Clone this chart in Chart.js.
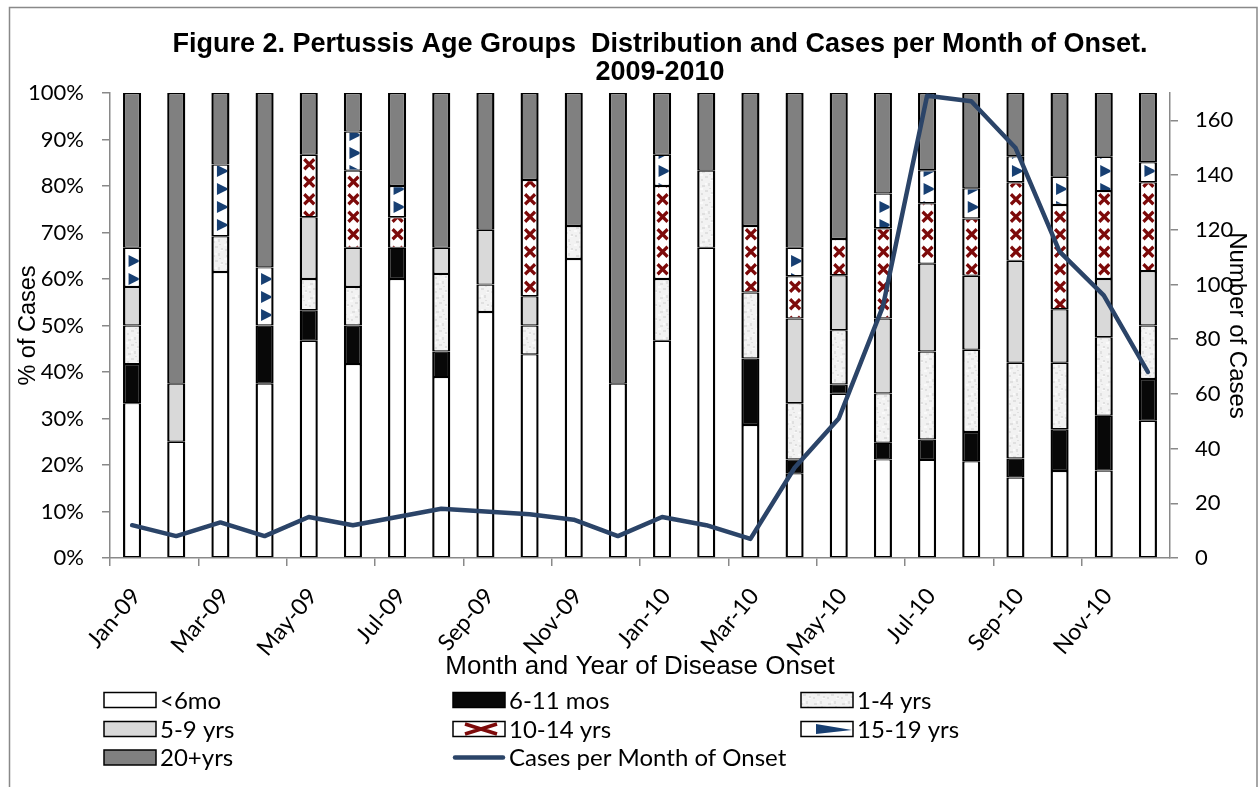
<!DOCTYPE html>
<html>
<head>
<meta charset="utf-8">
<script src="https://cdn.jsdelivr.net/npm/chart.js@4.4.0/dist/chart.umd.min.js"></script>
<style>
  html, body { margin: 0; padding: 0; background: #fff; }
  #wrap { width: 1259px; height: 787px; position: relative; }
</style>
</head>
<body>
<div id="wrap"><canvas id="grafico"></canvas></div>
<script>
// datos (porcentaje de casos por grupo de edad)
const tituloLineas = ['Figure 2. Pertussis Age Groups  Distribution and Cases per Month of Onset.', '2009-2010'];
const meses = ['Jan-09','Feb-09','Mar-09','Apr-09','May-09','Jun-09','Jul-09','Aug-09','Sep-09','Oct-09','Nov-09','Dec-09',
  'Jan-10','Feb-10','Mar-10','Apr-10','May-10','Jun-10','Jul-10','Aug-10','Sep-10','Oct-10','Nov-10','Dec-10'];
const menos6mo = [33.3, 25, 61.5, 37.5, 46.7, 41.7, 60, 38.9, 52.9, 43.8, 64.3, 37.5, 46.7, 66.7, 28.6, 18.2, 35.3, 21.2, 21.1, 20.8, 17.3, 18.7, 18.8, 29.5];
const de6a11mos = [8.4, 0, 0, 12.5, 6.6, 8.3, 6.7, 5.5, 0, 0, 0, 0, 0, 0, 14.3, 3, 2, 3.6, 4.4, 6.3, 4.1, 9, 11.8, 9];
const de1a4 = [8.3, 0, 7.7, 0, 6.7, 8.3, 0, 16.7, 5.9, 6.2, 7.1, 0, 13.3, 16.6, 14.2, 12.1, 11.7, 10.6, 18.9, 17.7, 20.6, 14.3, 16.9, 11.5];
const de5a9 = [8.3, 12.5, 0, 0, 13.3, 8.4, 0, 5.6, 11.8, 6.3, 0, 0, 0, 0, 0, 18.2, 11.8, 16.1, 18.9, 15.9, 21.9, 11.5, 12.5, 11.7];
const de10a14 = [0, 0, 0, 0, 13.4, 16.6, 6.6, 0, 0, 25, 0, 0, 20, 0, 14.3, 9.1, 7.8, 19.4, 13, 12.3, 16.9, 22.4, 18.9, 19.1];
const de15a19 = [8.4, 0, 15.4, 12.5, 0, 8.4, 6.7, 0, 0, 0, 0, 0, 6.7, 0, 0, 6.1, 0, 7.5, 7.1, 6.5, 5.6, 6.1, 7.4, 4.3];
const de20mas = [33.3, 62.5, 15.4, 37.5, 13.3, 8.3, 20, 33.3, 29.4, 18.7, 28.6, 62.5, 13.3, 16.7, 28.6, 33.3, 31.4, 21.6, 16.6, 20.5, 13.6, 18, 13.7, 14.9];
const casos = [12, 8, 13, 8, 15, 12, 15, 18, 17, 16, 14, 8, 15, 12, 7, 33, 51, 92, 169, 167, 150, 112, 96, 68];
const ticksPct = [0, 10, 20, 30, 40, 50, 60, 70, 80, 90, 100];

const gris = '#898989';
const azul = '#2b4468';
const rojo = '#7d0a0a';
const azulTri = '#173f72';

// textura moteada para 1-4 yrs
function moteado() {
  const t = document.createElement('canvas');
  t.width = 14; t.height = 14;
  const g = t.getContext('2d');
  g.fillStyle = '#f2f2f2';
  g.fillRect(0, 0, 14, 14);
  g.fillStyle = '#e0e0e0';
  [[2,3,3,2],[8,1,2,3],[5,8,3,2],[11,10,2,2],[1,11,2,2],[9,6,2,1]].forEach(r => g.fillRect(r[0], r[1], r[2], r[3]));
  g.fillStyle = '#fafafa';
  [[5,1,2,2],[0,6,3,2],[10,12,3,1]].forEach(r => g.fillRect(r[0], r[1], r[2], r[3]));
  return g.createPattern(t, 'repeat');
}

function barra(label, datos, fondo, marca) {
  return {
    label: label,
    data: datos.map(v => v || null),
    backgroundColor: fondo,
    borderColor: '#000',
    borderWidth: { top: 1.2, bottom: 1.2, left: 2.4, right: 2.4 },
    borderSkipped: false,
    stack: 'edades',
    yAxisID: 'y',
    order: 1,
    marca: marca
  };
}

// dibuja las X y los triangulos dentro de cada barra
const marcas = {
  id: 'marcas',
  afterDatasetDraw(chart, args) {
    const ds = chart.data.datasets[args.index];
    if (!ds.marca) return;
    const c = chart.ctx, area = chart.chartArea;
    const paso = ds.marca === 'x' ? 17.5 : 18;
    args.meta.data.forEach(b => {
      const p = b.getProps(['x', 'y', 'base', 'width'], true);
      const top = Math.min(p.y, p.base), bot = Math.max(p.y, p.base);
      if (bot - top < 1) return;
      c.save();
      c.beginPath();
      c.rect(p.x - p.width / 2 + 2.4, top + 1.2, p.width - 4.8, bot - top - 2.4);
      c.clip();
      for (let yy = area.bottom - paso / 2; yy > top - paso; yy -= paso) {
        if (yy > bot + paso) continue;
        if (ds.marca === 'x') {
          c.strokeStyle = rojo;
          c.lineWidth = 3.2;
          c.beginPath();
          c.moveTo(p.x - 4.5, yy - 5); c.lineTo(p.x + 5.5, yy + 5);
          c.moveTo(p.x + 5.5, yy - 5); c.lineTo(p.x - 4.5, yy + 5);
          c.stroke();
        } else {
          c.fillStyle = azulTri;
          c.beginPath();
          c.moveTo(p.x - 3.5, yy - 6); c.lineTo(p.x + 8.5, yy); c.lineTo(p.x - 3.5, yy + 6);
          c.closePath();
          c.fill();
        }
      }
      c.restore();
    });
  }
};

// fondo, marco y titulo
const titulo = {
  id: 'titulo',
  beforeDraw(chart) {
    const c = chart.ctx;
    c.save();
    c.fillStyle = '#fff';
    c.fillRect(0, 0, chart.width, chart.height);
    c.strokeStyle = gris;
    c.lineWidth = 1.5;
    c.strokeRect(9.5, 7.5, 1247.5, chart.height + 20);
    c.fillStyle = '#000';
    c.font = 'bold 27px "Liberation Sans", Arial, sans-serif';
    c.textAlign = 'center';
    tituloLineas.forEach((t, i) => c.fillText(t, 660, 52 + i * 28));
    c.restore();
  }
};

// leyenda en 3 columnas
const leyenda = {
  id: 'leyenda',
  afterDraw(chart) {
    const c = chart.ctx;
    const cols = [104, 453, 801], filas = [700, 729, 757.5];
    chart.data.datasets.forEach((ds, i) => {
      const x = cols[i % 3], y = filas[Math.floor(i / 3)];
      c.save();
      if (ds.type === 'line') {
        c.strokeStyle = ds.borderColor;
        c.lineWidth = 4.5;
        c.lineCap = 'round';
        c.beginPath(); c.moveTo(x + 2, y); c.lineTo(x + 50, y); c.stroke();
      } else {
        c.fillStyle = ds.backgroundColor;
        c.fillRect(x, y - 7.5, 52, 15);
        if (ds.marca === 'x') {
          c.strokeStyle = rojo; c.lineWidth = 3.5;
          c.beginPath();
          c.moveTo(x + 12, y - 5); c.lineTo(x + 44, y + 5);
          c.moveTo(x + 12, y + 5); c.lineTo(x + 44, y - 5);
          c.stroke();
        } else if (ds.marca === 'tri') {
          c.fillStyle = azulTri;
          c.beginPath();
          c.moveTo(x + 15, y - 5); c.lineTo(x + 51, y + 1); c.lineTo(x + 15, y + 5);
          c.closePath(); c.fill();
        }
        c.strokeStyle = '#000'; c.lineWidth = 1.5;
        c.strokeRect(x, y - 7.5, 52, 15);
      }
      c.fillStyle = '#000';
      c.font = '24px Lato';
      c.textBaseline = 'middle';
      c.fillText(ds.label, x + 56, y + 1);
      c.restore();
    });
  }
};

Chart.defaults.font.family = 'Lato';
Chart.defaults.color = '#000';

const ctx = document.getElementById('grafico');
new Chart(ctx, {
  type: 'bar',
  data: {
    labels: meses,
    datasets: [
      barra('<6mo', menos6mo, '#ffffff'),
      barra('6-11 mos', de6a11mos, '#080808'),
      barra('1-4 yrs', de1a4, moteado()),
      barra('5-9 yrs', de5a9, '#d9d9d9'),
      barra('10-14 yrs', de10a14, '#ffffff', 'x'),
      barra('15-19 yrs', de15a19, '#ffffff', 'tri'),
      barra('20+yrs', de20mas, '#808080'),
      {
        type: 'line',
        label: 'Cases per Month of Onset',
        data: casos,
        yAxisID: 'y1',
        borderColor: azul,
        borderWidth: 4.5,
        borderCapStyle: 'round',
        borderJoinStyle: 'round',
        pointRadius: 0,
        tension: 0,
        fill: false,
        order: 0
      }
    ]
  },
  options: {
    responsive: true,
    maintainAspectRatio: false,
    animation: false,
    layout: { padding: { left: 14, right: 2, top: 93, bottom: 101 } },
    datasets: { bar: { barPercentage: 0.82, categoryPercentage: 0.5 } },
    plugins: {
      legend: { display: false },
      title: { display: false },
      tooltip: { enabled: false }
    },
    scales: {
      x: {
        stacked: true,
        grid: {
          drawOnChartArea: false,
          tickLength: 8,
          lineWidth: 1.5,
          color: c => c.index % 2 === 0 ? gris : 'rgba(0,0,0,0)'
        },
        border: { color: gris, width: 1.5 },
        ticks: {
          autoSkip: false,
          minRotation: 50,
          maxRotation: 50,
          padding: 17,
          labelOffset: 4,
          font: { size: 23 },
          callback: (v, i) => i % 2 === 0 ? meses[i] : ''
        },
        title: {
          display: true,
          text: 'Month and Year of Disease Onset',
          font: { family: '"Liberation Sans", Arial', size: 26 },
          padding: { top: 4, bottom: 4 }
        },
        afterFit: s => { s.height = 128; }
      },
      y: {
        stacked: true,
        min: 0,
        max: 100,
        afterBuildTicks: s => { s.ticks = ticksPct.map(v => ({ value: v })); },
        ticks: { padding: 18, font: { size: 22 }, callback: v => v + '%' },
        grid: { drawOnChartArea: false, tickLength: 8, lineWidth: 1.5, color: gris },
        border: { color: gris, width: 1.5 },
        title: {
          display: true,
          text: '% of Cases',
          font: { family: '"Liberation Sans", Arial', size: 23.5 },
          padding: { top: 0, bottom: 0 }
        },
        afterFit: s => { s.width = 96; }
      },
      y1: {
        position: 'right',
        min: 0,
        max: 170,
        ticks: { stepSize: 20, includeBounds: false, padding: 17, font: { size: 22 } },
        grid: { drawOnChartArea: false, tickLength: 8, lineWidth: 1.5, color: gris },
        border: { color: gris, width: 1.5 },
        title: {
          display: true,
          text: 'Number of Cases',
          font: { family: '"Liberation Sans", Arial', size: 24 },
          padding: { top: 6, bottom: 0 }
        },
        afterFit: s => { s.width = 87; }
      }
    }
  },
  plugins: [titulo, marcas, leyenda]
});
</script>
</body>
</html>
